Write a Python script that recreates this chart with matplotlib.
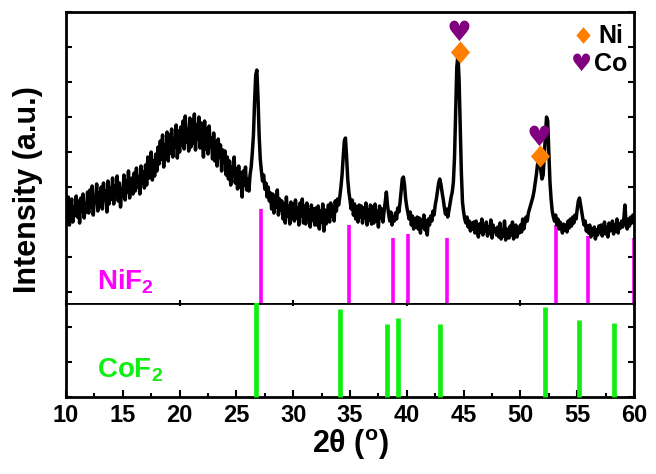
import matplotlib
matplotlib.use("Agg")
import matplotlib.pyplot as plt
import numpy as np
from matplotlib.ticker import MultipleLocator

plt.rcParams["font.family"] = ["Liberation Sans", "DejaVu Sans"]
plt.rcParams["font.weight"] = "bold"
plt.rcParams["axes.labelweight"] = "bold"
plt.rcParams["mathtext.default"] = "regular"

# measured pattern, 0.1 deg steps from 10 to 60
two_theta = np.round(np.arange(10.0, 60.05, 0.1), 1)
intensity = [
    195, 178, 200, 172, 188, 198, 175, 190, 182, 201,  # 10
    180, 196, 174, 199, 186, 203, 179, 193, 185, 205,  # 11
    184, 207, 190, 211, 182, 200, 195, 213, 186, 204,  # 12
    191, 210, 188, 214, 197, 206, 185, 216, 193, 209,  # 13
    198, 219, 193, 211, 202, 221, 196, 214, 190, 208,  # 14
    201, 222, 197, 216, 205, 226, 199, 213, 219, 203,  # 15
    224, 206, 229, 210, 220, 203, 231, 214, 225, 209,  # 16
    232, 212, 240, 219, 228, 245, 217, 236, 221, 243,  # 17
    226, 250, 233, 256, 238, 262, 230, 252, 241, 265,  # 18
    236, 262, 244, 268, 240, 258, 250, 272, 239, 266,  # 19
    245, 270, 252, 276, 248, 281, 255, 268, 246, 279,  # 20
    250, 277, 254, 283, 247, 272, 258, 280, 249, 274,  # 21
    262, 240, 276, 248, 268, 243, 271, 250, 259, 238,  # 22
    264, 236, 255, 231, 258, 240, 252, 226, 247, 235,  # 23
    246, 222, 240, 218, 236, 212, 230, 221, 240, 214,  # 24
    228, 208, 231, 210, 224, 200, 226, 212, 230, 207,  # 25
    218, 206, 222, 230, 244, 262, 295, 322, 327, 300,  # 26
    262, 238, 226, 216, 222, 208, 214, 200, 210, 196,  # 27
    204, 188, 203, 184, 199, 190, 207, 182, 198, 187,  # 28
    196, 178, 193, 174, 200, 181, 191, 173, 195, 179,  # 29
    193, 176, 197, 179, 189, 172, 194, 181, 198, 174,  # 30
    191, 173, 194, 178, 187, 170, 192, 177, 188, 172,  # 31
    189, 172, 191, 168, 186, 175, 193, 166, 187, 173,  # 32
    180, 192, 175, 194, 181, 190, 176, 196, 186, 198,  # 33
    192, 200, 210, 222, 240, 256, 259, 240, 218, 205,  # 34
    197, 188, 197, 182, 193, 178, 190, 175, 192, 180,  # 35
    191, 174, 189, 179, 194, 172, 187, 177, 192, 173,  # 36
    190, 174, 193, 176, 186, 170, 191, 179, 188, 175,  # 37
    186, 195, 205, 192, 183, 176, 185, 172, 180, 176,  # 38
    184, 178, 189, 185, 194, 206, 218, 220, 212, 198,  # 39
    190, 184, 178, 185, 172, 181, 168, 178, 170, 180,  # 40
    168, 179, 164, 177, 170, 182, 167, 176, 162, 178,  # 41
    172, 181, 176, 186, 182, 192, 198, 206, 214, 218,  # 42
    213, 205, 198, 190, 183, 188, 180, 186, 193, 200,  # 43
    205, 215, 240, 285, 330, 342, 318, 270, 225, 195,  # 44
    185, 178, 174, 180, 170, 176, 166, 174, 168, 175,  # 45
    164, 176, 168, 160, 173, 165, 178, 162, 171, 166,  # 46
    175, 161, 170, 164, 177, 159, 172, 166, 168, 162,  # 47
    170, 160, 174, 158, 166, 161, 176, 157, 168, 163,  # 48
    159, 171, 162, 175, 158, 166, 172, 160, 169, 164,  # 49
    172, 165, 178, 168, 175, 180, 176, 184, 188, 192,  # 50
    196, 200, 206, 214, 222, 232, 238, 236, 226, 218,  # 51
    222, 240, 262, 280, 276, 245, 215, 198, 186, 180,  # 52
    176, 182, 172, 178, 168, 175, 170, 164, 173, 167,  # 53
    172, 165, 176, 169, 178, 171, 180, 174, 182, 178,  # 54
    188, 196, 199, 192, 185, 178, 172, 176, 166, 171,  # 55
    164, 172, 160, 168, 163, 170, 158, 167, 162, 171,  # 56
    165, 172, 161, 169, 175, 163, 170, 160, 174, 166,  # 57
    168, 176, 163, 172, 166, 178, 164, 173, 169, 176,  # 58
    170, 178, 192, 174, 168, 178, 171, 180, 174, 182,  # 59
    176,
]

# reference patterns
nif2_pos = [27.16, 34.93, 38.75, 40.09, 43.58, 53.13, 55.98, 60.0]
nif2_int = [188, 172, 159, 163, 159, 172, 161, 159]
cof2_pos = [26.72, 34.10, 38.22, 39.22, 42.94, 52.16, 55.17, 58.26]
cof2_int = [105, 88, 73, 79, 73, 90, 77, 74]

# phase markers (ni diamond, co heart)
ni_marks = [(44.65, 345), (51.72, 241)]
co_marks = [(44.6, 364), (51.62, 259)]

divider = 94
top_lim = 385

fig = plt.figure(figsize=(6.56, 4.74), dpi=100)
left, width = 0.1006, 0.8659
bot_h = divider / 474
ax_bot = fig.add_axes([left, 0.1624, width, bot_h])
ax_top = fig.add_axes([left, 0.1624 + bot_h, width, (top_lim - divider) / 474])

ax_top.plot(two_theta, intensity, color="black", lw=2.5, zorder=3)
ax_top.vlines(nif2_pos, divider, nif2_int, colors="#FF00FF", lw=2.6, zorder=2)
ax_bot.vlines(cof2_pos, 0, cof2_int, colors="#11EE11", lw=3.4, zorder=5,
              clip_on=False)

diamond = [(0, 1), (0.86, 0), (0, -1), (-0.86, 0)]
for x, y in ni_marks:
    ax_top.plot(x, y, marker=diamond, ms=16, color="#FF8000", mec="none",
                zorder=6)
for x, y in co_marks:
    ax_top.text(x, y, "\u2665", color="#800080", fontsize=20,
                family="DejaVu Sans", ha="center", va="center", zorder=6)

# legend drawn by hand
ax_top.plot(55.5, 362, marker=diamond, ms=12, color="#FF8000", mec="none")
ax_top.text(56.9, 361, "Ni", fontsize=18, va="center", ha="left")
ax_top.text(55.4, 333, "\u2665", color="#800080", fontsize=17,
            family="DejaVu Sans", ha="center", va="center")
ax_top.text(56.5, 333, "Co", fontsize=18, va="center", ha="left")

ax_top.text(12.7, 108, "NiF$_2$", color="#FF00FF", fontsize=20,
            va="baseline", ha="left")
ax_bot.text(12.7, 20, "CoF$_2$", color="#11EE11", fontsize=20,
            va="baseline", ha="left")

for ax in (ax_top, ax_bot):
    ax.set_xlim(10, 60)
    for s in ax.spines.values():
        s.set_linewidth(2)
    ax.yaxis.set_major_locator(MultipleLocator(35))
    ax.tick_params(axis="y", which="both", direction="in", left=True,
                   right=True, labelleft=False, length=4, width=1.5)

ax_top.set_ylim(divider, top_lim)
ax_bot.set_ylim(0, divider)

ax_top.xaxis.set_major_locator(MultipleLocator(10))
ax_top.tick_params(axis="x", direction="inout", length=4, width=1.5,
                   labelbottom=False, top=False)
ax_top.spines["bottom"].set_visible(False)
ax_bot.spines["top"].set_linewidth(2)

ax_bot.xaxis.set_major_locator(MultipleLocator(5))
ax_bot.xaxis.set_minor_locator(MultipleLocator(2.5))
ax_bot.tick_params(axis="x", which="both", direction="in", width=1.5,
                   labelsize=17, pad=5, top=False)
ax_bot.tick_params(axis="x", which="major", length=5)
ax_bot.tick_params(axis="x", which="minor", length=3)

ax_bot.set_xlabel("2\u03b8 ($^{o}$)", fontsize=22, labelpad=0)
fig.text(0.042, 0.6, "Intensity (a.u.)", rotation=90, fontsize=22,
         ha="center", va="center")

fig.savefig("out.png", dpi=100)
